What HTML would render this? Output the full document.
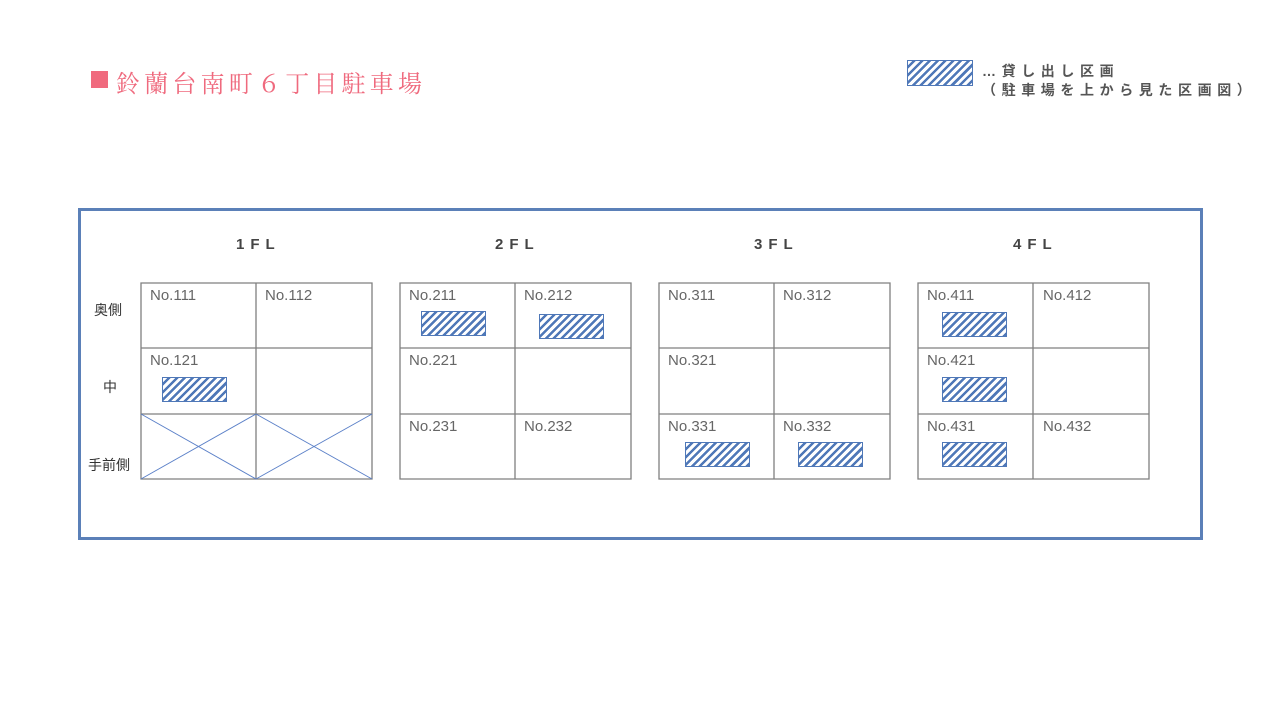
<!DOCTYPE html>
<html><head><meta charset="utf-8"><style>
body{margin:0;width:1280px;height:720px;background:#fff;position:relative;overflow:hidden;font-family:"Liberation Sans","Noto Sans CJK JP",sans-serif}
.a{position:absolute}
.h{position:absolute;width:63px;height:23px;border:1px solid #4f78b8;background:repeating-linear-gradient(135deg,#fff 0 3px,#4f78b8 3px 5.5px)}
.t{position:absolute;font-size:15px;color:#666}
.fl{position:absolute;font-size:15px;font-weight:bold;color:#444;letter-spacing:6px;top:236px}
</style></head><body>
<div class="a" style="left:91px;top:71px;width:17px;height:17px;background:#f06a7e"></div>
<div class="a" style="left:116px;top:64px;font-family:'Noto Serif CJK SC',serif;font-size:24px;color:#ef6a7e;letter-spacing:4.2px">鈴蘭台南町６丁目駐車場</div>
<div class="h" style="left:907px;top:60px;width:64px;height:24px"></div>
<div class="a" style="left:982px;top:62px;font-size:14px;font-weight:bold;color:#555;letter-spacing:5.6px;line-height:19px">…貸し出し区画<br>（駐車場を上から見た区画図）</div>
<div class="a" style="left:78px;top:208px;width:1119px;height:326px;border:3px solid #5b80b8"></div>
<svg class="a" style="left:0;top:0" width="1280" height="720">
<g stroke="#7f7f7f" stroke-width="1.3" fill="none">
<path d="M141 283H372V479H141Z M256 283V479 M141 348H372 M141 414H372"/>
<path d="M400 283H631V479H400Z M515 283V479 M400 348H631 M400 414H631"/>
<path d="M659 283H890V479H659Z M774 283V479 M659 348H890 M659 414H890"/>
<path d="M918 283H1149V479H918Z M1033 283V479 M918 348H1149 M918 414H1149"/>
</g>
<g stroke="#5b80c8" stroke-width="1"><path d="M141 414L256 479M256 414L141 479M256 414L372 479M372 414L256 479"/></g>
</svg>
<div class="fl" style="left:236px">1FL</div>
<div class="fl" style="left:495px">2FL</div>
<div class="fl" style="left:754px">3FL</div>
<div class="fl" style="left:1013px">4FL</div>
<div class="t" style="left:94px;top:300px;color:#333;font-size:14px">奥側</div>
<div class="t" style="left:103px;top:377px;color:#333;font-size:14px">中</div>
<div class="t" style="left:88px;top:455px;color:#333;font-size:14px">手前側</div>
<div class="t" style="left:150px;top:287px">No.111</div><div class="t" style="left:265px;top:287px">No.112</div>
<div class="t" style="left:150px;top:352px">No.121</div>
<div class="t" style="left:409px;top:287px">No.211</div><div class="t" style="left:524px;top:287px">No.212</div>
<div class="t" style="left:409px;top:352px">No.221</div>
<div class="t" style="left:409px;top:418px">No.231</div><div class="t" style="left:524px;top:418px">No.232</div>
<div class="t" style="left:668px;top:287px">No.311</div><div class="t" style="left:783px;top:287px">No.312</div>
<div class="t" style="left:668px;top:352px">No.321</div>
<div class="t" style="left:668px;top:418px">No.331</div><div class="t" style="left:783px;top:418px">No.332</div>
<div class="t" style="left:927px;top:287px">No.411</div><div class="t" style="left:1043px;top:287px">No.412</div>
<div class="t" style="left:927px;top:352px">No.421</div>
<div class="t" style="left:927px;top:418px">No.431</div><div class="t" style="left:1043px;top:418px">No.432</div>
<div class="h" style="left:162px;top:377px"></div>
<div class="h" style="left:421px;top:311px"></div>
<div class="h" style="left:539px;top:314px"></div>
<div class="h" style="left:685px;top:442px"></div>
<div class="h" style="left:798px;top:442px"></div>
<div class="h" style="left:942px;top:312px"></div>
<div class="h" style="left:942px;top:377px"></div>
<div class="h" style="left:942px;top:442px"></div>
</body></html>
